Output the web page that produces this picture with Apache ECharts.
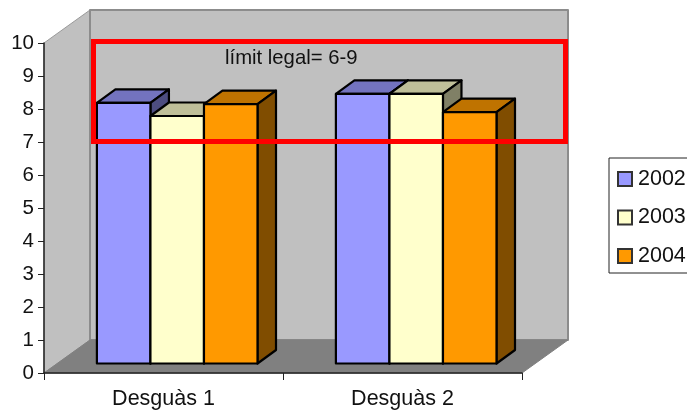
<!DOCTYPE html>
<html>
<head>
<meta charset="utf-8">
<script src="https://cdn.jsdelivr.net/npm/echarts@6/dist/echarts.min.js"></script>
<style>html,body{margin:0;padding:0;background:#fff;overflow:hidden}#c{width:687px;height:416px}</style>
</head>
<body>
<div id="c"></div>
<script>
const categories = ['Desguàs 1', 'Desguàs 2'];
const years = ['2002', '2003', '2004'];
const values2002 = [7.9, 8.17];
const values2003 = [7.5, 8.17];
const values2004 = [7.86, 7.62];
const yTicks = [0, 10, 1];
const annotation = 'límit legal= 6-9';

const FONT = '"Liberation Sans", Arial, sans-serif';
const styles = [
  {front: '#9999FF', top: '#7373BF', side: '#4D4D80'},
  {front: '#FFFFCC', top: '#BFBF99', side: '#808066'},
  {front: '#FF9900', top: '#BF7300', side: '#804D00'}
];
const wallDepth = [46, -33];
const barDepth = [18.5, -13.5];
const barShift = [13.7, -9.5];

function poly(points, fill, stroke, width) {
  return {type: 'polygon', shape: {points}, style: {fill, stroke, lineWidth: width, lineJoin: 'round'}};
}

function renderWalls(params, api) {
  const a = api.coord([0, 0]);
  const band = api.size([1, 0])[0];
  const left = a[0] - band / 2, right = left + band * categories.length, bottom = a[1];
  const top = api.coord([0, yTicks[1]])[1];
  const dx = wallDepth[0], dy = wallDepth[1];
  return {type: 'group', children: [
    poly([[left, top], [left + dx, top + dy], [left + dx, bottom + dy], [left, bottom]], '#C0C0C0', '#9a9a9a', 1),
    poly([[left + dx, top + dy], [right + dx, top + dy], [right + dx, bottom + dy], [left + dx, bottom + dy]], '#C0C0C0', '#8c8c8c', 2),
    poly([[left, bottom], [left + dx, bottom + dy], [right + dx, bottom + dy], [right, bottom]], '#808080', '#808080', 1)
  ]};
}

function makeRenderBar(si) {
  return function (params, api) {
    const idx = api.value(0);
    const band = api.size([1, 0])[0];
    const w = band * 0.224;
    const c = api.coord([idx, api.value(1)]);
    const b = api.coord([idx, 0]);
    const x0 = c[0] + barShift[0] + (si - 1.5) * w;
    const x1 = x0 + w;
    const yt = c[1] + barShift[1];
    const yb = b[1] + barShift[1];
    const dx = barDepth[0], dy = barDepth[1];
    const s = styles[si];
    return {type: 'group', children: [
      poly([[x0, yt], [x0 + dx, yt + dy], [x1 + dx, yt + dy], [x1, yt]], s.top, '#000', 2.2),
      poly([[x1, yt], [x1 + dx, yt + dy], [x1 + dx, yb + dy], [x1, yb]], s.side, '#000', 2.2),
      poly([[x0, yt], [x1, yt], [x1, yb], [x0, yb]], s.front, '#000', 2.2)
    ]};
  };
}

const seriesValues = [values2002, values2003, values2004];
const barSeries = years.map((y, si) => ({
  name: y,
  type: 'custom',
  z: 4,
  clip: false,
  renderItem: makeRenderBar(si),
  itemStyle: {color: styles[si].front, borderColor: '#333', borderWidth: 1.5},
  encode: {x: 0, y: 1},
  data: seriesValues[si].map((v, i) => [i, v])
}));

const chart = echarts.init(document.getElementById('c'), null, {renderer: 'canvas'});
chart.setOption({
  animation: false,
  backgroundColor: '#fff',
  textStyle: {fontFamily: FONT},
  grid: {left: 44, top: 43, width: 478, height: 330, containLabel: false},
  xAxis: {
    type: 'category',
    data: categories,
    z: 5,
    axisLine: {lineStyle: {color: '#222', width: 1.5}},
    axisTick: {show: true, alignWithLabel: false, length: 7, lineStyle: {color: '#222', width: 1}},
    axisLabel: {color: '#111', fontSize: 21.5, fontFamily: FONT, margin: 15}
  },
  yAxis: {
    type: 'value',
    min: yTicks[0],
    max: yTicks[1],
    interval: yTicks[2],
    z: 5,
    splitLine: {show: false},
    axisLine: {show: true, lineStyle: {color: '#222', width: 1.5}},
    axisTick: {show: true, length: 6, lineStyle: {color: '#222', width: 1}},
    axisLabel: {color: '#111', fontSize: 20.5, fontFamily: FONT, margin: 10}
  },
  legend: {
    data: years,
    orient: 'vertical',
    left: 609,
    top: 158,
    padding: [10, 20, 6, 8],
    itemWidth: 14,
    itemHeight: 14,
    itemGap: 16.5,
    borderColor: '#222',
    borderWidth: 1,
    icon: 'rect',
    selectedMode: false,
    textStyle: {color: '#111', fontSize: 21.5, fontFamily: FONT, padding: [0, 0, 4, 1], lineHeight: 14}
  },
  graphic: [
    {type: 'rect', z: 20, shape: {x: 93.5, y: 41.5, width: 472, height: 100},
      style: {fill: 'none', stroke: '#FF0000', lineWidth: 5}},
    {type: 'text', z: 21, left: 225, top: 48,
      style: {text: annotation, fill: '#111', font: '20.3px ' + FONT}}
  ],
  series: [
    {type: 'custom', z: 1, silent: true, clip: false, renderItem: renderWalls, encode: {x: 0, y: 1}, data: [[0, 0]]},
    ...barSeries
  ]
});
</script>
</body>
</html>
